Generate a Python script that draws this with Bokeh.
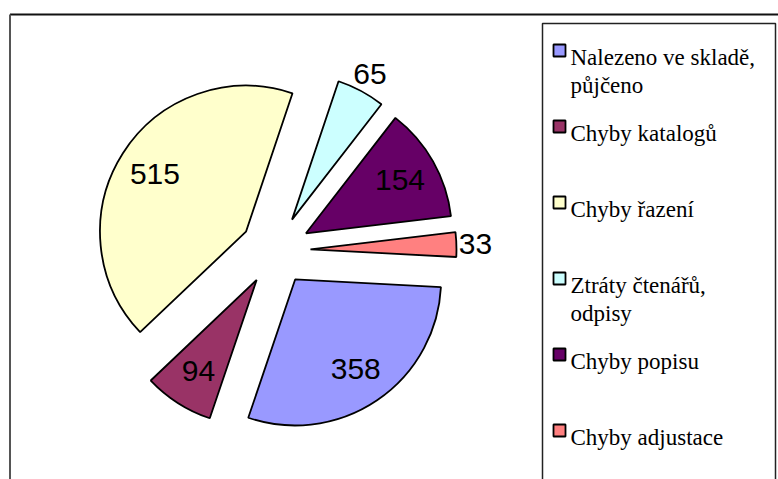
import math
from bokeh.plotting import figure
from bokeh.models import Range1d, ColumnDataSource
from bokeh.core.properties import value
from bokeh.embed import file_html
from bokeh.resources import INLINE

# ---- data ----
categories = ["Nalezeno ve skladě,\npůjčeno", "Chyby katalogů", "Chyby řazení",
              "Ztráty čtenářů,\nodpisy", "Chyby popisu", "Chyby adjustace"]
values = [358, 94, 515, 65, 154, 33]
colors = ["#9999FF", "#993366", "#FFFFCC", "#CCFFFF", "#660066", "#FF8080"]

# ---- layout (screen pixels -> data units, 1:1) ----
W, H = 778, 479
def sx(x):
    return x
def sy(y):
    return H - y

p = figure(width=W, height=H, x_range=Range1d(0, W), y_range=Range1d(0, H),
           output_backend="svg", toolbar_location=None, min_border=0,
           x_axis_type=None, y_axis_type=None)
p.grid.visible = False
p.outline_line_color = None
p.background_fill_color = "white"
p.border_fill_color = "white"

# outer chart border (top and left visible)
p.segment(x0=[sx(9.5), sx(9.5)], y0=[sy(14), sy(14)], x1=[sx(800), sx(9.5)], y1=[sy(14), sy(520)],
          line_color=["#111111", "#555555"], line_width=2)

# ---- pie ----
cx, cy = sx(275), sy(250)
r = 146
explode = 35
start_cw = 93.0  # first slice angle, clockwise from 12 o'clock
total = float(sum(values))

xs, ys, sa, ea, lx, ly, lt = [], [], [], [], [], [], []
cum = 0.0
for v in values:
    a = v / total * 360.0
    t1 = start_cw + cum
    t2 = t1 + a
    tm = (t1 + t2) / 2.0
    phi = math.radians(90.0 - tm)
    ox = cx + explode * math.cos(phi)
    oy = cy + explode * math.sin(phi)
    xs.append(ox)
    ys.append(oy)
    sa.append(math.radians(90.0 - t2))
    ea.append(math.radians(90.0 - t1))
    if v / total < 0.06:
        dist = explode + r + 19
    else:
        dist = explode + 0.74 * r
    lx.append(cx + dist * math.cos(phi))
    ly.append(cy + dist * math.sin(phi))
    lt.append(str(v))
    cum += a

src = ColumnDataSource(dict(x=xs, y=ys, sa=sa, ea=ea, color=colors))
p.wedge(x="x", y="y", radius=r, start_angle="sa", end_angle="ea", source=src,
        fill_color="color", line_color="black", line_width=1.8)

p.text(x=lx, y=ly, text=lt, text_font=value("Liberation Sans"), text_font_size="30px",
       text_align="center", text_baseline="middle", text_color="black")

# ---- legend ----
p.quad(left=[sx(542)], right=[sx(775)], top=[sy(23)], bottom=[sy(540)],
       fill_color=None, line_color="#222222", line_width=1.5)

sq_x, sq_y, tx, ty, tt = [], [], [], [], []
for i, lab in enumerate(categories):
    yc = 50 + 76 * i
    sq_x.append(sx(559))
    sq_y.append(sy(yc))
    for j, line in enumerate(lab.split("\n")):
        tx.append(sx(570))
        ty.append(sy(yc + 7 + 28 * j))
        tt.append(line)

p.rect(x=sq_x, y=sq_y, width=12, height=12, fill_color=colors, line_color="black", line_width=1.8)
p.text(x=tx, y=ty, text=tt, text_font=value("Liberation Serif"), text_font_size="23px",
       text_align="left", text_baseline="alphabetic", text_color="black")

open("out.html", "w").write(file_html(p, INLINE))
